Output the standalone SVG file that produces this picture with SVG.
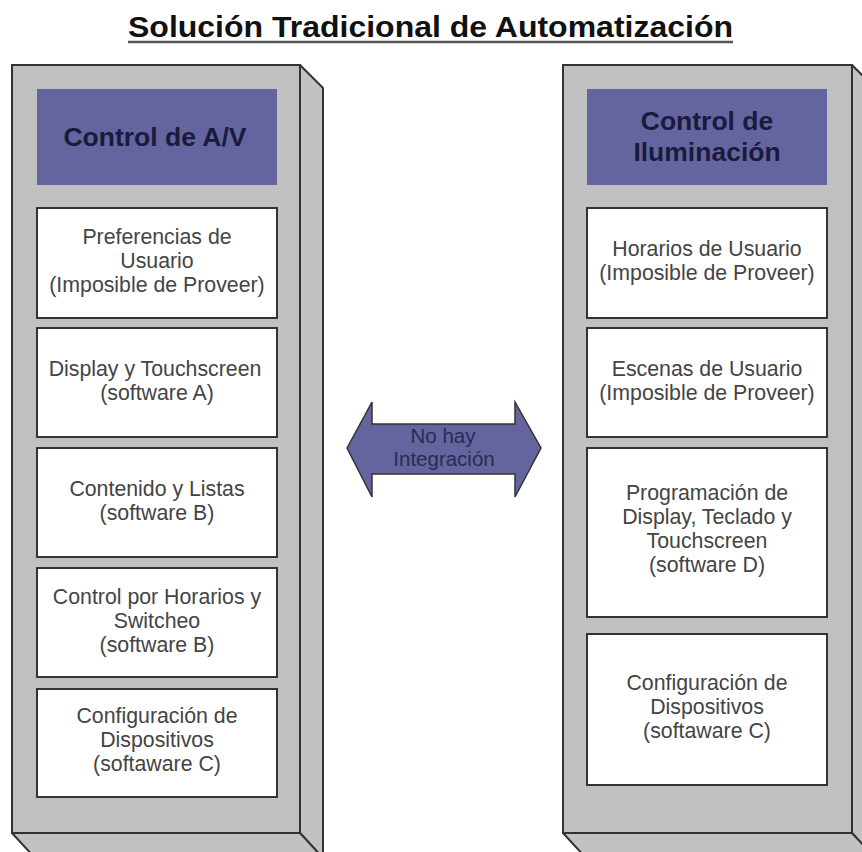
<svg xmlns="http://www.w3.org/2000/svg" width="862" height="852" viewBox="0 0 862 852">
<style>
.face{fill:#c2c2c2;stroke:#333;stroke-width:2;stroke-linejoin:round}
.front{fill:#c0c0c0;stroke:#333;stroke-width:2}
.hdr{fill:#64649e}
.hdrt{font-family:"Liberation Sans",Arial,sans-serif;font-weight:bold;font-size:26.5px;fill:#1a1a3c;text-anchor:middle}
.box{fill:#fff;stroke:#333;stroke-width:2}
.t{font-family:"Liberation Sans",Arial,sans-serif;font-size:21.3px;fill:#444;text-anchor:middle}
.title{font-family:"Liberation Sans",Arial,sans-serif;font-weight:bold;font-size:30px;fill:#111}
.arr{fill:#64649e;stroke:#333;stroke-width:1.5;stroke-linejoin:miter}
.at{font-family:"Liberation Sans",Arial,sans-serif;font-size:20.5px;fill:#2a2a55;text-anchor:middle}
</style>
<rect width="862" height="852" fill="#fff"/>
<g id="title">
<text class="title" x="128" y="37" textLength="605" lengthAdjust="spacingAndGlyphs">Solución Tradicional de Automatización</text>
<line x1="128" y1="42" x2="733" y2="42" stroke="#555" stroke-width="2.5"/>
</g>
<g id="panel-av">
<polygon class="face" points="300,65 323,88 323,858 300,833"/>
<polygon class="face" points="12,833 300,833 323,858 35,858"/>
<rect class="front" x="12" y="65" width="288" height="768"/>
</g>
<g id="panel-luz">
<polygon class="face" points="852,65 875,88 875,858 852,833"/>
<polygon class="face" points="563,833 852,833 875,858 586,858"/>
<rect class="front" x="563" y="65" width="289" height="768"/>
</g>
<g id="hdr-av">
<rect class="hdr" x="37" y="89" width="240" height="96"/>
<text class="hdrt" x="155" y="146">Control de A/V</text>
</g>
<g id="hdr-luz">
<rect class="hdr" x="587" y="89" width="240" height="96"/>
<text class="hdrt" x="707" y="130">Control de</text>
<text class="hdrt" x="707" y="161">Iluminación</text>
</g>
<g id="av1">
<rect class="box" x="37" y="208" width="240" height="110"/>
<text class="t" x="157" y="244">Preferencias de</text>
<text class="t" x="157" y="268">Usuario</text>
<text class="t" x="157" y="292">(Imposible de Proveer)</text>
</g>
<g id="av2">
<rect class="box" x="37" y="328" width="240" height="109"/>
<text class="t" x="155" y="376">Display y Touchscreen</text>
<text class="t" x="157" y="400">(software A)</text>
</g>
<g id="av3">
<rect class="box" x="37" y="448" width="240" height="109"/>
<text class="t" x="157" y="496">Contenido y Listas</text>
<text class="t" x="157" y="520">(software B)</text>
</g>
<g id="av4">
<rect class="box" x="37" y="568" width="240" height="109"/>
<text class="t" x="157" y="604">Control por Horarios y</text>
<text class="t" x="157" y="628">Switcheo</text>
<text class="t" x="157" y="652">(software B)</text>
</g>
<g id="av5">
<rect class="box" x="37" y="689" width="240" height="108"/>
<text class="t" x="157" y="723">Configuración de</text>
<text class="t" x="157" y="747">Dispositivos</text>
<text class="t" x="157" y="771">(softaware C)</text>
</g>
<g id="luz1">
<rect class="box" x="587" y="208" width="240" height="110"/>
<text class="t" x="707" y="256">Horarios de Usuario</text>
<text class="t" x="707" y="280">(Imposible de Proveer)</text>
</g>
<g id="luz2">
<rect class="box" x="587" y="328" width="240" height="109"/>
<text class="t" x="707" y="376">Escenas de Usuario</text>
<text class="t" x="707" y="400">(Imposible de Proveer)</text>
</g>
<g id="luz3">
<rect class="box" x="587" y="448" width="240" height="169"/>
<text class="t" x="707" y="500">Programación de</text>
<text class="t" x="707" y="524">Display, Teclado y</text>
<text class="t" x="707" y="548">Touchscreen</text>
<text class="t" x="707" y="572">(software D)</text>
</g>
<g id="luz4">
<rect class="box" x="587" y="634" width="240" height="151"/>
<text class="t" x="707" y="690">Configuración de</text>
<text class="t" x="707" y="714">Dispositivos</text>
<text class="t" x="707" y="738">(softaware C)</text>
</g>
<g id="connectors">
<polygon class="arr" points="347,448 372,402 372,424 515,424 515,402 541,448 515,497 515,474 372,474 372,497"/>
<text class="at" x="443" y="443">No hay</text>
<text class="at" x="444" y="466">Integración</text>
</g>
</svg>
